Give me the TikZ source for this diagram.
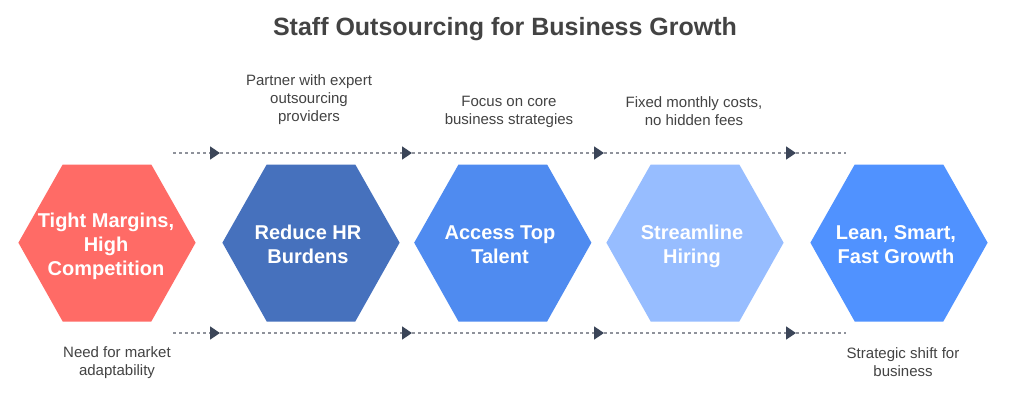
\documentclass[tikz,border=0pt]{standalone}
\usepackage{fontspec}
\setmainfont{Liberation Sans}
\usetikzlibrary{arrows.meta}
\definecolor{ink}{HTML}{434343}
\definecolor{tipc}{HTML}{3B4558}
\definecolor{dotc}{HTML}{8F929B}
\definecolor{cRed}{HTML}{FF6B66}
\definecolor{cDark}{HTML}{4671BD}
\definecolor{cMid}{HTML}{4F8BF0}
\definecolor{cLight}{HTML}{97BDFF}
\definecolor{cBright}{HTML}{5092FF}
\tikzset{
  x=1pt,y=-1pt,
  hexlabel/.style={text=white,align=center,font=\fontsize{20}{24}\selectfont\bfseries,inner sep=0pt},
  note/.style={text=ink,align=center,font=\fontsize{15}{18}\selectfont,inner sep=0pt},
  flow/.style={draw=dotc,line width=1.5pt,dash pattern=on 3pt off 3pt,-{Triangle[length=10pt,width=13pt,color=tipc]},shorten >=0pt},
  flowend/.style={draw=dotc,line width=1.5pt,dash pattern=on 3pt off 3pt},
}
\newcommand{\hexa}[3]{% centre x, colour, name
  \fill[#2] (#1-88.6,242.7) -- (#1-44.3,164.5) -- (#1+44.3,164.5) -- (#1+88.6,242.7) -- (#1+44.3,321.5) -- (#1-44.3,321.5) -- cycle;
}
\begin{document}
\begin{tikzpicture}
\useasboundingbox (0,0) rectangle (1011,404);
\fill[white] (0,0) rectangle (1011,404);
\node[text=ink,font=\fontsize{25}{28}\selectfont\bfseries,inner sep=0pt] (title) at (505,29) {Staff Outsourcing for Business Growth};
\hexa{107}{cRed}{h1}
\hexa{311}{cDark}{h2}
\hexa{502.8}{cMid}{h3}
\hexa{695}{cLight}{h4}
\hexa{899}{cBright}{h5}
\node[hexlabel] (h1) at (106,246.5) {Tight Margins,\\High\\Competition};
\node[hexlabel] (h2) at (308,244.3) {Reduce HR\\Burdens};
\node[hexlabel] (h3) at (500,244.3) {Access Top\\Talent};
\node[hexlabel] (h4) at (692,246.5) {Streamline\\Hiring};
\node[hexlabel] (h5) at (896,244.3) {Lean, Smart,\\Fast Growth};
\node[note] (n2) at (309,100) {Partner with expert\\outsourcing\\providers};
\node[note] (n3) at (509,111.5) {Focus on core\\business strategies};
\node[note] (n4) at (694,111.5) {Fixed monthly costs,\\no hidden fees};
\node[note] (n1) at (117,362.5) {Need for market\\adaptability};
\node[note] (n5) at (903,362.5) {Strategic shift for\\business};
\foreach \r/\yy in {t/153,b/333}{
  \coordinate (\r0) at (173,\yy);
  \coordinate (\r1) at (220,\yy);
  \coordinate (\r2) at (412,\yy);
  \coordinate (\r3) at (604,\yy);
  \coordinate (\r4) at (796,\yy);
  \coordinate (\r5) at (846,\yy);
  \draw[flow] (\r0) -- (\r1);
  \draw[flow] (\r1) -- (\r2);
  \draw[flow] (\r2) -- (\r3);
  \draw[flow] (\r3) -- (\r4);
  \draw[flowend] (\r4) -- (\r5);
}
\end{tikzpicture}
\end{document}
